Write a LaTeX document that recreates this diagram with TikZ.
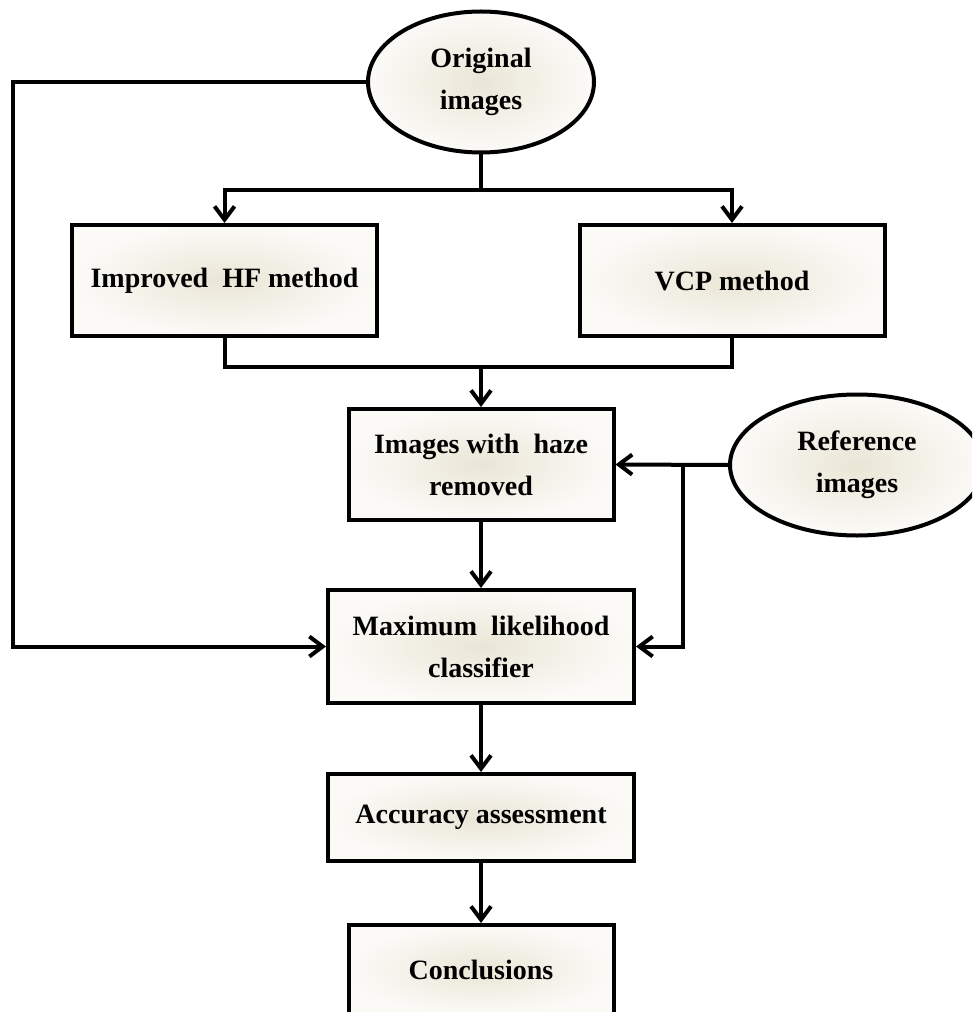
\documentclass[tikz,border=0pt]{standalone}
\usepackage{fontspec}
\setmainfont{Liberation Serif}
\usetikzlibrary{shapes.geometric,arrows.meta}
\definecolor{beigein}{RGB}{234,230,214}
\definecolor{beigeout}{RGB}{251,250,247}
\begin{document}
\begin{tikzpicture}[x=0.75pt,y=-0.75pt,
  lbl/.style={font=\fontsize{21}{31.5}\selectfont\bfseries,align=center,inner sep=0pt},
  box/.style={lbl,rectangle,draw=black,line width=3pt,inner color=beigein,outer color=beigeout},
  oval/.style={lbl,ellipse,draw=black,line width=3pt,inner color=beigein,outer color=beigeout},
  conn/.style={draw=black,line width=3pt},
  arr/.style={conn,-{Straight Barb[length=10pt,width=15pt,line width=3pt]}}]
\useasboundingbox (0,0) rectangle (972,1012);
\fill[white] (0,0) rectangle (972,1012);
\clip (0,0) rectangle (972,1012);

\node[oval,minimum width=169.5pt,minimum height=105.75pt] (orig) at (481,82) {Original\\images};
\node[box,minimum width=228.75pt,minimum height=83.25pt] (hf) at (224.5,280.5) {Improved\ \ HF method};
\node[box,minimum width=228.75pt,minimum height=83.25pt] (vcp) at (732,280.5) {VCP method};
\node[box,minimum width=198.75pt,minimum height=83.25pt] (haze) at (481,464.5) {Images with\ \ haze\\removed};
\node[oval,minimum width=190.5pt,minimum height=105.75pt] (ref) at (857,465) {Reference\\images};
\node[box,minimum width=229.5pt,minimum height=84.75pt] (max) at (481,646.5) {Maximum\ \ likelihood\\classifier};
\node[box,minimum width=229.5pt,minimum height=65.25pt] (acc) at (481,817.5) {Accuracy assessment};
\node[box,minimum width=198.75pt,minimum height=67.5pt] (conc) at (481,970) {Conclusions};

\coordinate (b1) at (481,190);
\coordinate (b2) at (481,367);
\coordinate (lc) at (13,82);
\coordinate (j) at (683,465);

\draw[conn] (orig.south) -- (b1);
\draw[arr] (b1) -| (hf.north);
\draw[arr] (b1) -| (vcp.north);
\draw[conn] (hf.south) |- (b2);
\draw[conn] (vcp.south) |- (b2);
\draw[arr] (b2) -- (haze.north);
\draw[arr] (orig.west) -- (lc) |- (max.west);
\draw[arr] (ref.west) -- (haze.east);
\draw[arr] (j) |- (max.east);
\draw[arr] (haze.south) -- (max.north);
\draw[arr] (max.south) -- (acc.north);
\draw[arr] (acc.south) -- (conc.north);
\end{tikzpicture}
\end{document}
